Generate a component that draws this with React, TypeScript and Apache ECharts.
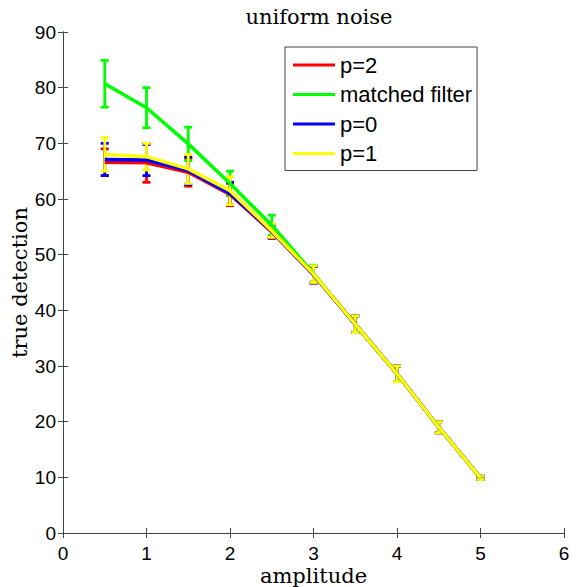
import React, { useEffect, useRef } from "react";
import * as echarts from "echarts";

const amplitudes = [0.5, 1, 1.5, 2, 2.5, 3, 3.5, 4, 4.5, 5];

const seriesNames = ["p=2", "matched filter", "p=0", "p=1"];
const seriesColors = ["#ff0000", "#00ff00", "#0000ff", "#ffff00"];

const p2Values = [66.6, 66.5, 64.8, 60.8, 54.1, 46.4, 37.5, 28.6, 19.0, 9.9];
const p2Errors = [2.4, 3.5, 2.5, 2.0, 1.2, 1.5, 1.5, 1.4, 1.0, 0.3];

const mfValues = [80.7, 76.4, 69.9, 62.8, 55.3, 46.6, 37.5, 28.6, 19.0, 9.9];
const mfErrors = [4.2, 3.6, 3.0, 2.2, 1.8, 1.5, 1.5, 1.4, 1.0, 0.3];

const p0Values = [67.1, 67.0, 65.1, 61.0, 54.2, 46.4, 37.5, 28.6, 19.0, 9.9];
const p0Errors = [2.9, 2.8, 2.5, 2.0, 1.2, 1.5, 1.5, 1.4, 1.0, 0.3];

const p1Values = [68.0, 67.6, 65.4, 61.5, 54.3, 46.5, 37.5, 28.6, 19.0, 9.9];
const p1Errors = [3.0, 2.4, 2.6, 2.5, 1.2, 1.5, 1.5, 1.4, 1.0, 0.3];

const xTicks = [0, 1, 2, 3, 4, 5, 6];
const yTicks = [0, 10, 20, 30, 40, 50, 60, 70, 80, 90];

const allValues = [p2Values, mfValues, p0Values, p1Values];
const allErrors = [p2Errors, mfErrors, p0Errors, p1Errors];

export default function App() {
  const ref = useRef<HTMLDivElement>(null);

  useEffect(() => {
    if (!ref.current) return;
    const chart = echarts.init(ref.current, null, { renderer: "svg" });

    const series: any[] = [];
    seriesNames.forEach((name, i) => {
      const color = seriesColors[i];
      const vals = allValues[i];
      const errs = allErrors[i];
      series.push({
        name,
        type: "line",
        data: amplitudes.map((x, k) => [x, vals[k]]),
        symbol: "none",
        lineStyle: { color, width: 3.5 },
        itemStyle: { color },
        smooth: false,
      });
      series.push({
        name: name + " err",
        type: "custom",
        data: amplitudes.map((x, k) => [x, vals[k], errs[k]]),
        renderItem: (params: any, api: any) => {
          const x = api.value(0);
          const y = api.value(1);
          const e = api.value(2);
          const top = api.coord([x, y + e]);
          const bot = api.coord([x, y - e]);
          const hw = 4;
          const style = { stroke: color, lineWidth: 2.8 };
          return {
            type: "group",
            children: [
              { type: "line", shape: { x1: top[0], y1: top[1], x2: bot[0], y2: bot[1] }, style },
              { type: "line", shape: { x1: top[0] - hw, y1: top[1], x2: top[0] + hw, y2: top[1] }, style },
              { type: "line", shape: { x1: bot[0] - hw, y1: bot[1], x2: bot[0] + hw, y2: bot[1] }, style },
            ],
          };
        },
      });
    });

    const tickFont = { fontFamily: "Liberation Sans", fontSize: 19, lineHeight: 19, color: "#000" };
    const axisLine = { show: true, lineStyle: { color: "#444", width: 1 } };

    chart.setOption({
      animation: false,
      backgroundColor: "#fff",
      title: {
        text: "uniform noise",
        left: 314,
        top: 1,
        textAlign: "center",
        textStyle: { fontFamily: "DejaVu Serif", fontSize: 21, fontWeight: "normal", color: "#000" },
      },
      legend: {
        data: seriesNames,
        orient: "vertical",
        left: 285,
        top: 47,
        icon: "rect",
        itemWidth: 42,
        itemHeight: 3,
        itemGap: 7.5,
        padding: [7, 5, 6, 8],
        borderColor: "#444",
        borderWidth: 1,
        backgroundColor: "#fff",
        textStyle: { fontFamily: "Liberation Sans", fontSize: 22, lineHeight: 22, color: "#000" },
      },
      grid: {
        left: 63,
        right: 21,
        top: 32,
        bottom: 54,
        containLabel: false,
        outerBoundsMode: "none",
      },
      xAxis: [
        {
          type: "value",
          min: 0,
          max: 6,
          interval: 1,
          name: "amplitude",
          nameLocation: "middle",
          nameGap: 32,
          nameMoveOverlap: false,
          nameTextStyle: { fontFamily: "DejaVu Serif", fontSize: 21, lineHeight: 21, color: "#000" },
          axisLine,
          axisTick: { show: true, inside: true, length: 5, lineStyle: { color: "#444" } },
          axisLabel: { ...tickFont, margin: 11, customValues: xTicks },
          splitLine: { show: false },
        },
        {
          type: "value",
          position: "top",
          min: 0,
          max: 6,
          interval: 1,
          axisLine,
          axisTick: { show: true, inside: true, length: 5, lineStyle: { color: "#444" } },
          axisLabel: { show: false },
          splitLine: { show: false },
        },
      ],
      yAxis: [
        {
          type: "value",
          min: 0,
          max: 90,
          interval: 10,
          name: "true detection",
          nameLocation: "middle",
          nameGap: 33,
          nameRotate: 90,
          nameMoveOverlap: false,
          nameTextStyle: { fontFamily: "DejaVu Serif", fontSize: 21, color: "#000" },
          axisLine,
          axisTick: { show: true, inside: true, length: 5, lineStyle: { color: "#444" } },
          axisLabel: { ...tickFont, margin: 7, customValues: yTicks },
          splitLine: { show: false },
        },
        {
          type: "value",
          position: "right",
          min: 0,
          max: 90,
          interval: 10,
          axisLine,
          axisTick: { show: true, inside: true, length: 5, lineStyle: { color: "#444" } },
          axisLabel: { show: false },
          splitLine: { show: false },
        },
      ],
      series,
    });

    return () => chart.dispose();
  }, []);

  return (
    <div
      ref={ref}
      style={{ position: "fixed", left: 0, top: 0, width: 585, height: 587 }}
    />
  );
}
